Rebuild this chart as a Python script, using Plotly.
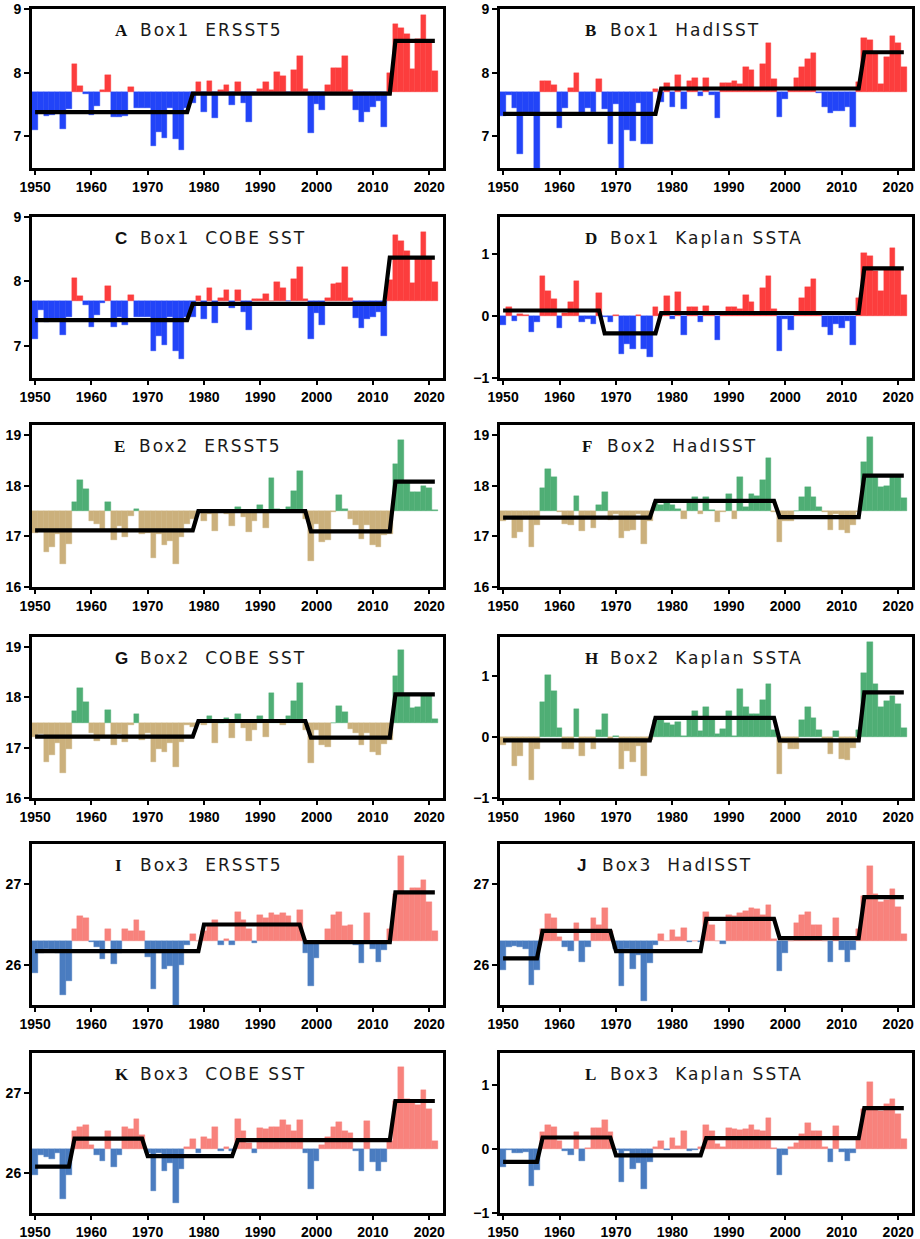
import plotly.graph_objects as go

years = list(range(1950, 2022))

# ---------------- data ----------------
A_vals = [7.10, 7.40, 7.32, 7.34, 7.40, 7.12, 7.42, 8.14, 7.79, 7.66,
          7.34, 7.48, 7.73, 7.96, 7.30, 7.30, 7.32, 7.77, 7.45, 7.45,
          7.44, 6.85, 7.07, 6.97, 7.45, 6.95, 6.78, 7.45, 7.52, 7.85,
          7.38, 7.87, 7.29, 7.72, 7.80, 7.49, 7.85, 7.52, 7.22, 7.69,
          7.75, 7.85, 7.72, 8.01, 7.95, 7.68, 8.04, 8.26, 7.75, 7.05,
          7.50, 7.41, 7.80, 8.07, 8.07, 8.26, 7.73, 7.41, 7.22, 7.38,
          7.46, 7.56, 7.14, 8.00, 8.77, 8.70, 8.60, 8.05, 8.53, 8.90,
          8.50, 8.02]
B_vals = [7.32, 7.65, 7.45, 6.72, 7.35, 7.35, 6.42, 7.87, 7.87, 7.80,
          7.13, 7.45, 7.76, 7.99, 7.37, 7.45, 7.38, 7.90, 7.42, 6.87,
          7.50, 6.40, 7.10, 6.92, 7.52, 6.87, 6.87, 7.75, 7.53, 7.84,
          7.46, 7.97, 7.43, 7.87, 7.91, 7.63, 7.92, 7.65, 7.28, 7.84,
          7.84, 7.87, 7.82, 8.09, 8.04, 7.74, 8.14, 8.46, 7.90, 7.30,
          7.58, 7.72, 7.92, 8.09, 8.21, 8.31, 7.68, 7.46, 7.36, 7.39,
          7.39, 7.46, 7.14, 7.85, 8.54, 8.51, 8.32, 7.82, 8.24, 8.58,
          8.46, 8.09]
C_vals = [7.10, 7.55, 7.37, 7.38, 7.42, 7.17, 7.45, 8.06, 7.77, 7.63,
          7.29, 7.48, 7.66, 7.93, 7.29, 7.45, 7.32, 7.79, 7.45, 7.45,
          7.44, 6.92, 7.15, 7.02, 7.45, 6.92, 6.80, 7.45, 7.45, 7.77,
          7.41, 7.89, 7.36, 7.74, 7.87, 7.58, 7.87, 7.53, 7.24, 7.72,
          7.72, 7.81, 7.70, 7.99, 7.89, 7.69, 8.04, 8.23, 7.72, 7.11,
          7.51, 7.33, 7.75, 7.96, 7.98, 8.23, 7.75, 7.43, 7.27, 7.41,
          7.45, 7.53, 7.16, 8.02, 8.72, 8.62, 8.47, 7.97, 8.35, 8.77,
          8.37, 7.99]
D_vals = [-0.15, 0.15, -0.08, 0.04, 0.02, -0.25, -0.09, 0.65, 0.40, 0.27,
          -0.20, 0.05, 0.22, 0.57, -0.10, -0.05, -0.12, 0.37, -0.02, -0.10,
          0.02, -0.61, -0.45, -0.53, 0.01, -0.53, -0.66, 0.14, 0.03, 0.32,
          -0.05, 0.39, -0.30, 0.14, 0.14, -0.10, 0.17, 0.05, -0.38, 0.02,
          0.14, 0.14, 0.12, 0.34, 0.22, 0.02, 0.45, 0.65, 0.12, -0.56,
          -0.05, -0.23, 0.03, 0.29, 0.47, 0.60, 0.03, -0.17, -0.30, -0.12,
          -0.20, -0.08, -0.46, 0.29, 1.02, 0.97, 0.72, 0.40, 0.75, 1.10,
          0.75, 0.34]
E_vals = [17.07, 17.12, 16.70, 16.80, 17.05, 16.45, 16.85, 17.68, 18.12, 17.94,
          17.30, 17.25, 17.15, 17.68, 16.92, 17.20, 16.98, 17.40, 17.55, 17.05,
          17.06, 16.57, 17.05, 16.82, 16.90, 16.45, 16.98, 17.25, 17.35, 17.48,
          17.30, 17.45, 17.10, 17.50, 17.45, 17.20, 17.58, 17.38, 17.08, 17.30,
          17.62, 17.17, 18.15, 17.55, 17.52, 17.58, 17.90, 18.30, 17.35, 16.52,
          17.25, 16.88, 16.92, 17.48, 17.81, 17.55, 17.35, 17.22, 16.95, 17.22,
          16.82, 16.80, 17.02, 17.05, 18.43, 18.90, 18.08, 17.87, 17.87, 17.99,
          17.96, 17.52]
F_vals = [17.30, 17.40, 16.97, 17.08, 17.40, 16.79, 17.22, 17.96, 18.33, 18.18,
          17.48, 17.25, 17.22, 17.80, 17.10, 17.40, 17.16, 17.62, 17.87, 17.32,
          17.45, 16.97, 17.10, 17.12, 17.45, 16.85, 17.30, 17.65, 17.62, 17.72,
          17.62, 17.55, 17.35, 17.70, 17.77, 17.45, 17.77, 17.52, 17.28, 17.48,
          17.83, 17.35, 18.18, 17.58, 17.83, 17.80, 18.11, 18.55, 17.48, 16.88,
          17.30, 17.30, 17.50, 17.78, 17.97, 17.78, 17.58, 17.48, 17.13, 17.45,
          17.13, 17.07, 17.22, 17.48, 18.47, 18.97, 18.20, 17.97, 18.00, 18.20,
          18.20, 17.75]
G_vals = [17.22, 17.28, 16.72, 16.85, 17.10, 16.50, 16.98, 17.72, 18.18, 17.90,
          17.30, 17.14, 17.20, 17.75, 17.05, 17.28, 17.12, 17.45, 17.66, 17.15,
          17.30, 16.72, 16.97, 16.92, 17.10, 16.62, 17.12, 17.45, 17.42, 17.50,
          17.45, 17.62, 17.10, 17.50, 17.60, 17.20, 17.66, 17.40, 17.13, 17.36,
          17.62, 17.22, 18.09, 17.55, 17.45, 17.62, 17.93, 18.28, 17.35, 16.70,
          17.35, 17.05, 17.02, 17.50, 17.82, 17.70, 17.38, 17.30, 17.05, 17.30,
          16.92, 16.85, 17.08, 17.15, 18.43, 18.95, 18.05, 17.78, 17.80, 18.02,
          18.02, 17.58]
H_vals = [-0.13, -0.05, -0.47, -0.31, -0.03, -0.71, -0.20, 0.58, 1.02, 0.76,
          0.15, -0.20, -0.20, 0.47, -0.31, -0.03, -0.20, 0.12, 0.39, -0.05,
          0.02, -0.52, -0.22, -0.40, -0.15, -0.63, -0.05, 0.28, 0.31, 0.23,
          0.20, 0.25, 0.02, 0.28, 0.44, 0.10, 0.50, 0.28, 0.05, 0.14,
          0.44, 0.02, 0.79, 0.50, 0.38, 0.38, 0.61, 0.87, 0.12, -0.60,
          -0.10, -0.20, -0.20, 0.28, 0.50, 0.32, 0.12, -0.05, -0.28, 0.10,
          -0.35, -0.37, -0.18, 0.12, 1.05, 1.57, 0.87, 0.50, 0.60, 0.68,
          0.55, 0.15]
I_vals = [25.90, 26.15, 26.20, 26.18, 26.15, 25.63, 25.80, 26.45, 26.60, 26.58,
          26.28, 26.22, 26.07, 26.45, 26.01, 26.15, 26.45, 26.42, 26.56, 26.42,
          26.10, 25.70, 26.15, 25.95, 25.98, 25.48, 26.00, 26.25, 26.38, 26.30,
          26.42, 26.48, 26.55, 26.25, 26.32, 26.25, 26.66, 26.55, 26.45, 26.27,
          26.62, 26.58, 26.64, 26.62, 26.64, 26.60, 26.50, 26.68, 26.15, 25.73,
          26.08, 26.30, 26.45, 26.62, 26.66, 26.48, 26.50, 26.25, 26.02, 26.64,
          26.20, 26.04, 26.18, 26.45, 26.88, 27.35, 26.90, 26.95, 26.95, 27.05,
          26.78, 26.42]
J_vals = [25.93, 26.22, 26.23, 26.22, 26.20, 25.75, 25.93, 26.45, 26.63, 26.58,
          26.35, 26.22, 26.17, 26.52, 26.03, 26.22, 26.58, 26.50, 26.70, 26.42,
          26.20, 25.73, 26.20, 25.95, 26.12, 25.55, 26.02, 26.25, 26.38, 26.30,
          26.43, 26.35, 26.46, 26.28, 26.30, 26.28, 26.66, 26.50, 26.30, 26.26,
          26.62, 26.60, 26.64, 26.67, 26.71, 26.69, 26.62, 26.74, 26.32, 25.92,
          26.14, 26.30, 26.52, 26.62, 26.66, 26.50, 26.50, 26.30, 26.03, 26.58,
          26.18, 26.03, 26.18, 26.45, 26.86, 27.23, 26.88, 26.78, 26.80, 26.94,
          26.72, 26.38]
K_vals = [25.98, 26.22, 26.20, 26.18, 26.25, 25.67, 25.98, 26.52, 26.58, 26.60,
          26.35, 26.22, 26.15, 26.52, 26.08, 26.22, 26.57, 26.55, 26.68, 26.48,
          26.25, 25.77, 26.25, 26.02, 26.12, 25.63, 26.05, 26.32, 26.43, 26.25,
          26.45, 26.42, 26.57, 26.27, 26.32, 26.28, 26.67, 26.52, 26.38, 26.25,
          26.56, 26.55, 26.57, 26.58, 26.66, 26.60, 26.52, 26.66, 26.25, 25.80,
          26.15, 26.35, 26.45, 26.58, 26.64, 26.52, 26.50, 26.28, 26.03, 26.65,
          26.14, 26.03, 26.14, 26.40, 26.90, 27.32, 26.93, 26.88, 26.85, 27.04,
          26.80, 26.40]
L_vals = [-0.28, -0.02, -0.07, -0.07, -0.05, -0.58, -0.33, 0.27, 0.38, 0.35,
          0.12, -0.03, -0.10, 0.26, -0.19, 0.02, 0.33, 0.33, 0.46, 0.26,
          -0.02, -0.52, -0.03, -0.31, -0.22, -0.63, -0.20, 0.03, 0.12, -0.02,
          0.17, 0.05, 0.28, -0.03, -0.02, 0.03, 0.38, 0.28, 0.08, 0.03,
          0.33, 0.32, 0.30, 0.32, 0.38, 0.30, 0.28, 0.48, 0.02, -0.40,
          -0.10, 0.03, 0.10, 0.23, 0.40, 0.28, 0.28, 0.03, -0.20, 0.36,
          -0.05, -0.19, -0.07, 0.15, 0.62, 1.05, 0.65, 0.60, 0.70, 0.78,
          0.55, 0.16]

# regime means: (first year, last year, mean)
A_regimes = [(1950, 1977, 7.38), (1978, 2013, 7.67), (2014, 2021, 8.50)]
B_regimes = [(1950, 1977, 7.35), (1978, 2013, 7.75), (2014, 2021, 8.32)]
C_regimes = [(1950, 1977, 7.40), (1978, 2012, 7.65), (2013, 2021, 8.37)]
D_regimes = [(1950, 1967, 0.09), (1968, 1977, -0.28), (1978, 2013, 0.05), (2014, 2021, 0.77)]
E_regimes = [(1950, 1978, 17.12), (1979, 1998, 17.50), (1999, 2013, 17.10), (2014, 2021, 18.08)]
F_regimes = [(1950, 1976, 17.37), (1977, 1998, 17.70), (1999, 2013, 17.38), (2014, 2021, 18.20)]
G_regimes = [(1950, 1978, 17.22), (1979, 1998, 17.53), (1999, 2013, 17.20), (2014, 2021, 18.06)]
H_regimes = [(1950, 1976, -0.05), (1977, 1998, 0.32), (1999, 2013, -0.05), (2014, 2021, 0.74)]
I_regimes = [(1950, 1979, 26.17), (1980, 1997, 26.50), (1998, 2013, 26.28), (2014, 2021, 26.90)]
J_regimes = [(1950, 1956, 26.08), (1957, 1969, 26.42), (1970, 1985, 26.17), (1986, 1998, 26.57),
             (1999, 2013, 26.33), (2014, 2021, 26.84)]
K_regimes = [(1950, 1956, 26.08), (1957, 1969, 26.43), (1970, 1985, 26.21), (1986, 2013, 26.41),
             (2014, 2021, 26.90)]
L_regimes = [(1950, 1956, -0.20), (1957, 1969, 0.18), (1970, 1985, -0.10), (1986, 2013, 0.17),
             (2014, 2021, 0.64)]

baselines = {"A": 7.7, "B": 7.7, "C": 7.7, "D": 0.0, "E": 17.5, "F": 17.5, "G": 17.5, "H": 0.0,
             "I": 26.3, "J": 26.3, "K": 26.3, "L": 0.0}
titles = {"A": ("Box1", "ERSST5"), "B": ("Box1", "HadISST"), "C": ("Box1", "COBE SST"),
          "D": ("Box1", "Kaplan SSTA"), "E": ("Box2", "ERSST5"), "F": ("Box2", "HadISST"),
          "G": ("Box2", "COBE SST"), "H": ("Box2", "Kaplan SSTA"), "I": ("Box3", "ERSST5"),
          "J": ("Box3", "HadISST"), "K": ("Box3", "COBE SST"), "L": ("Box3", "Kaplan SSTA")}
x_ticks = [1950, 1960, 1970, 1980, 1990, 2000, 2010, 2020]

# ---------------- styling / layout ----------------
W, H = 920, 1239
col_px = [(32, 443), (500, 912)]
row_px = [(9, 168), (217, 378), (425, 587), (637, 798), (844, 1005), (1053, 1213)]
colors = {1: ("#fc3d3d", "#2244f8"), 2: ("#4fae75", "#cbb07c"), 3: ("#f8827c", "#4a7cc0")}
yranges = {"A": [6.5, 9.0001], "B": [6.5, 9.0001], "C": [6.5, 9.0001], "D": [-1.0001, 1.6],
           "E": [15.9999, 19.2], "F": [15.9999, 19.2], "G": [15.9999, 19.2], "H": [-1.0001, 1.65],
           "I": [25.5, 27.5], "J": [25.5, 27.5], "K": [25.5, 27.5], "L": [-1.0001, 1.5]}
yticks = {"A": [7, 8, 9], "B": [7, 8, 9], "C": [7, 8, 9], "D": [-1, 0, 1],
          "E": [16, 17, 18, 19], "F": [16, 17, 18, 19], "G": [16, 17, 18, 19], "H": [-1, 0, 1],
          "I": [26, 27], "J": [26, 27], "K": [26, 27], "L": [-1, 0, 1]}
sans_letters = {"C", "G", "J"}
title_left = {"A": 81, "B": 83, "C": 81, "D": 83, "E": 80, "F": 80, "G": 81, "H": 83,
              "I": 81, "J": 75, "K": 81, "L": 83}

values = {"A": A_vals, "B": B_vals, "C": C_vals, "D": D_vals, "E": E_vals, "F": F_vals,
          "G": G_vals, "H": H_vals, "I": I_vals, "J": J_vals, "K": K_vals, "L": L_vals}
regimes = {"A": A_regimes, "B": B_regimes, "C": C_regimes, "D": D_regimes, "E": E_regimes,
           "F": F_regimes, "G": G_regimes, "H": H_regimes, "I": I_regimes, "J": J_regimes,
           "K": K_regimes, "L": L_regimes}

fig = go.Figure()
tickfont = dict(family="Liberation Sans", size=14, color="black", weight="bold")
annotations = []
letters = "ABCDEFGHIJKL"
for i, key in enumerate(letters):
    n = i + 1
    row, col = divmod(i, 2)
    box = row // 2 + 1
    pos_c, neg_c = colors[box]
    base = baselines[key]
    vals = values[key]
    bar_cols = [pos_c if v >= base else neg_c for v in vals]
    xa = "x" if n == 1 else f"x{n}"
    ya = "y" if n == 1 else f"y{n}"
    fig.add_trace(go.Bar(x=years, y=[v - base for v in vals], base=base, width=1.0,
                         marker=dict(color=bar_cols, line=dict(color=bar_cols, width=0.4)),
                         xaxis=xa, yaxis=ya, showlegend=False, hoverinfo="skip"))
    step = []
    for y in years:
        for (a, b, m) in regimes[key]:
            if a <= y <= b:
                step.append(m)
                break
    fig.add_trace(go.Scatter(x=years, y=step, mode="lines",
                             line=dict(color="black", width=4.2),
                             xaxis=xa, yaxis=ya, showlegend=False, hoverinfo="skip"))
    l, r = col_px[col]
    t, b = row_px[row]
    xname = "xaxis" if n == 1 else f"xaxis{n}"
    yname = "yaxis" if n == 1 else f"yaxis{n}"
    fig.update_layout(**{
        xname: dict(domain=[l / W, r / W], anchor=ya, range=[1949.45, 2022.45],
                    tickvals=x_ticks, ticks="outside", ticklen=4, tickwidth=2,
                    tickcolor="black", showline=True, mirror=True, linecolor="black",
                    linewidth=3, showgrid=False, zeroline=False, tickfont=tickfont,
                    automargin=False),
        yname: dict(domain=[1 - b / H, 1 - t / H], anchor=xa, range=yranges[key],
                    tickvals=yticks[key], ticks="outside", ticklen=5, tickwidth=2,
                    tickcolor="black", showline=True, mirror=True, linecolor="black",
                    linewidth=3, showgrid=False, zeroline=False, tickfont=tickfont,
                    automargin=False),
    })
    boxname, dset = titles[key]
    fam = "Liberation Sans" if key in sans_letters else "Liberation Serif"
    x0 = (l + title_left[key]) / W
    y0 = 1 - (t + 21) / H
    annotations.append(dict(x=x0, y=y0, xref="paper", yref="paper",
                            xanchor="left", yanchor="middle", showarrow=False,
                            text=f"<b>{key}</b>",
                            font=dict(family=fam, size=17, color="#111111")))
    rest = boxname + "\u00a0\u00a0" + dset.replace(" ", "\u00a0")
    annotations.append(dict(x=x0 + 25 / W, y=y0, xref="paper", yref="paper",
                            xanchor="left", yanchor="middle", showarrow=False,
                            text=f"<span style='letter-spacing:2px'>{rest}</span>",
                            font=dict(family="DejaVu Sans", size=17, color="#1a1a1a")))

fig.update_layout(width=W, height=H, margin=dict(l=0, r=0, t=0, b=0),
                  paper_bgcolor="white", plot_bgcolor="white", bargap=0,
                  showlegend=False, annotations=annotations)
fig.write_html("out.html", config={"displayModeBar": False},
               post_script="document.body.style.margin='0';document.body.style.overflow='hidden';")
